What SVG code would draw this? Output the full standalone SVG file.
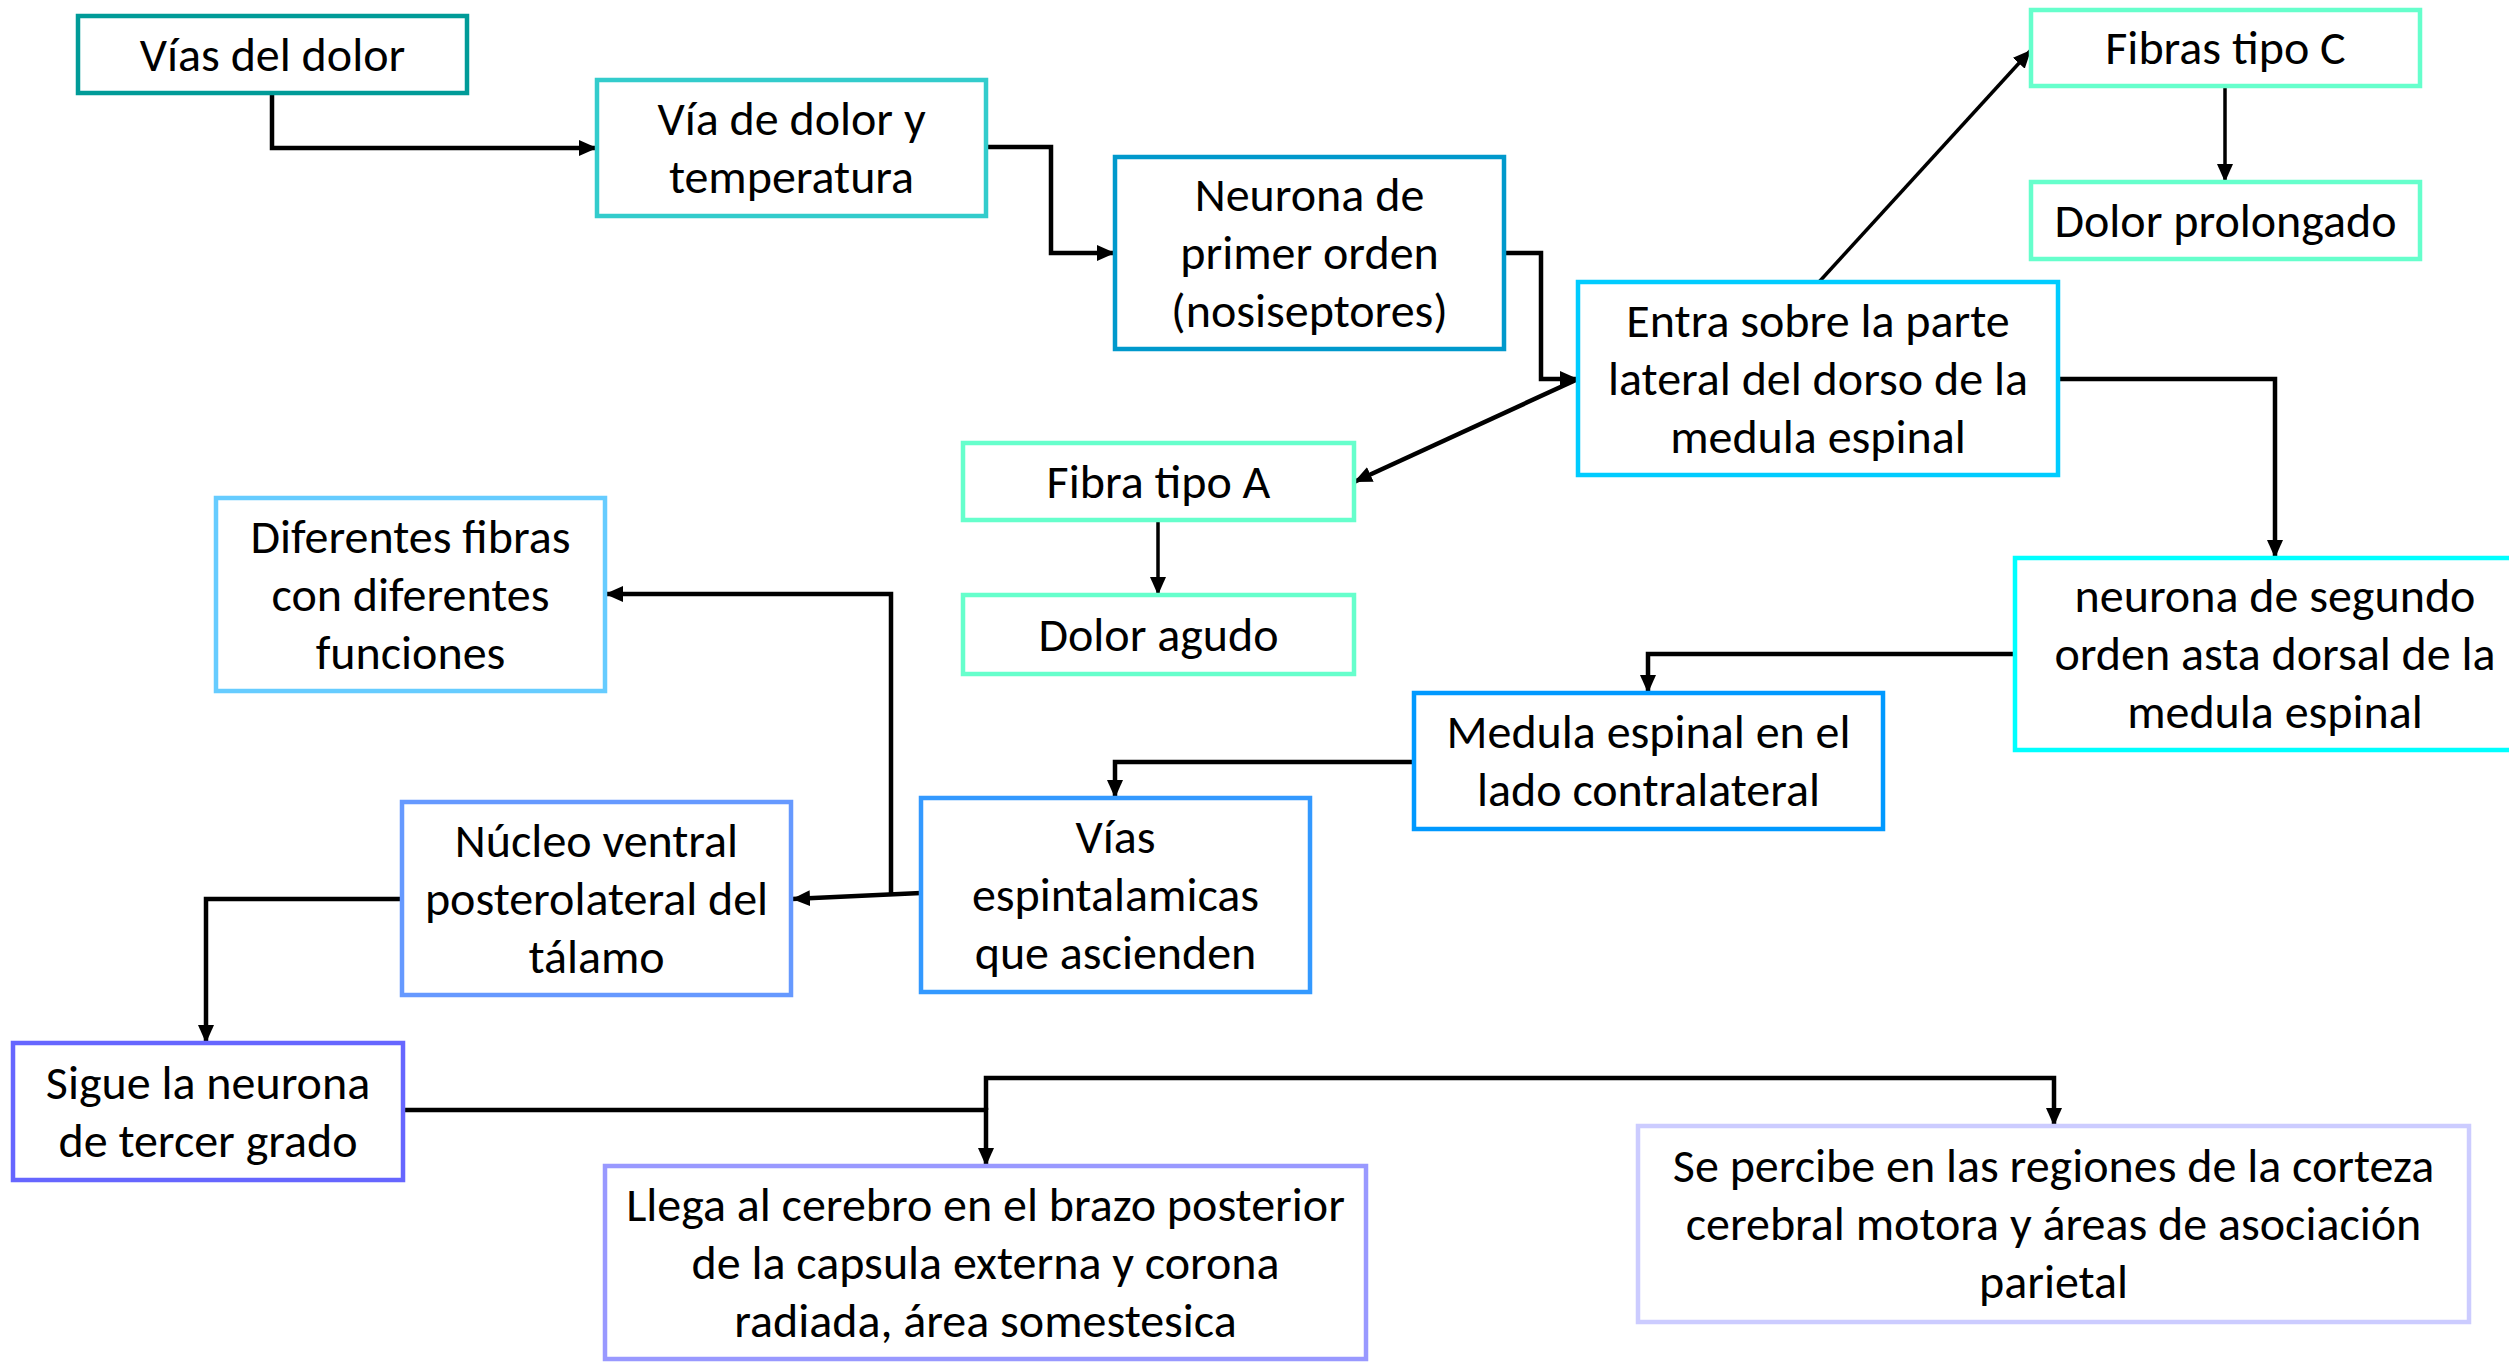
<svg xmlns="http://www.w3.org/2000/svg" width="2509" height="1362" viewBox="0 0 2509 1362">
<defs>
<marker id="arr" markerUnits="userSpaceOnUse" markerWidth="20" markerHeight="16" refX="18" refY="8" orient="auto">
<path d="M0,0 L18,8 L0,16 z" fill="#000"/>
</marker>
<style>
rect{fill:#fff;stroke-width:4.5}
text{font-family:Carlito,Lato,"Open Sans",sans-serif;font-size:48px;fill:#000;text-anchor:middle}
.c path{fill:none;stroke:#000;stroke-width:4.5;marker-end:url(#arr)}
.c path.t{stroke-width:3.5}
</style>
</defs>
<rect x="0" y="0" width="2509" height="1362" fill="#fff" stroke="none"/>
<g class="c" id="connectors">
<path d="M272,93 V148 H597"/>
<path d="M986,147 H1051 V253 H1115"/>
<path d="M1504,253 H1541 V379 H1578"/>
<path d="M1578,379 L1354,482"/>
<path class="t" d="M1819,282 L2031,50"/>
<path class="t" d="M2225,86 V182"/>
<path d="M2058,379 H2275 V558"/>
<path class="t" d="M1158,520 V595"/>
<path d="M2015,654 H1648 V693"/>
<path d="M1414,762 H1115 V798"/>
<path d="M921,893 L792,899"/>
<path d="M891,893 V594 H605"/>
<path d="M402,899 H206 V1043"/>
<path d="M403,1110 H986 V1166"/>
<path d="M986,1110 V1078 H2054 V1126"/>
</g>
<g id="n1"><rect x="78" y="16" width="389" height="77" stroke="#009B98"/><text x="272.5" y="71">Vías del dolor</text></g>
<g id="n2"><rect x="597" y="80" width="389" height="136" stroke="#33CCCC"/><text x="791.5" y="135">Vía de dolor y</text><text x="791.5" y="193">temperatura</text></g>
<g id="n3"><rect x="1115" y="157" width="389" height="192" stroke="#0099CC"/><text x="1309.5" y="211">Neurona de</text><text x="1309.5" y="269">primer orden</text><text x="1309.5" y="327">(nosiseptores)</text></g>
<g id="n4"><rect x="1578" y="282" width="480" height="193" stroke="#00CCFF"/><text x="1818" y="337">Entra sobre la parte</text><text x="1818" y="395">lateral del dorso de la</text><text x="1818" y="453">medula espinal</text></g>
<g id="n5"><rect x="2031" y="10" width="389" height="76" stroke="#66FFCC"/><text x="2225.5" y="64">Fibras tipo C</text></g>
<g id="n6"><rect x="2031" y="182" width="389" height="77" stroke="#66FFCC"/><text x="2225.5" y="237">Dolor prolongado</text></g>
<g id="n7"><rect x="963" y="443" width="391" height="77" stroke="#66FFCC"/><text x="1158.5" y="498">Fibra tipo A</text></g>
<g id="n8"><rect x="963" y="595" width="391" height="79" stroke="#66FFCC"/><text x="1158.5" y="651">Dolor agudo</text></g>
<g id="n9"><rect x="2015" y="558" width="520" height="192" stroke="#00FFFF"/><text x="2275" y="612">neurona de segundo</text><text x="2275" y="670">orden asta dorsal de la</text><text x="2275" y="728">medula espinal</text></g>
<g id="n10"><rect x="1414" y="693" width="469" height="136" stroke="#0099FF"/><text x="1648.5" y="748">Medula espinal en el</text><text x="1648.5" y="806">lado contralateral</text></g>
<g id="n11"><rect x="921" y="798" width="389" height="194" stroke="#3399FF"/><text x="1115.5" y="853">Vías</text><text x="1115.5" y="911">espintalamicas</text><text x="1115.5" y="969">que ascienden</text></g>
<g id="n12"><rect x="402" y="802" width="389" height="193" stroke="#6699FF"/><text x="596.5" y="857">Núcleo ventral</text><text x="596.5" y="915">posterolateral del</text><text x="596.5" y="973">tálamo</text></g>
<g id="n13"><rect x="216" y="498" width="389" height="193" stroke="#66CCFF"/><text x="410.5" y="553">Diferentes fibras</text><text x="410.5" y="611">con diferentes</text><text x="410.5" y="669">funciones</text></g>
<g id="n14"><rect x="13" y="1043" width="390" height="137" stroke="#6666FF"/><text x="208" y="1099">Sigue la neurona</text><text x="208" y="1157">de tercer grado</text></g>
<g id="n15"><rect x="605" y="1166" width="761" height="193" stroke="#9999FF"/><text x="985.5" y="1221">Llega al cerebro en el brazo posterior</text><text x="985.5" y="1279">de la capsula externa y corona</text><text x="985.5" y="1337">radiada, área somestesica</text></g>
<g id="n16"><rect x="1638" y="1126" width="831" height="196" stroke="#CCCCFF"/><text x="2053.5" y="1182">Se percibe en las regiones de la corteza</text><text x="2053.5" y="1240">cerebral motora y áreas de asociación</text><text x="2053.5" y="1298">parietal</text></g>
</svg>
